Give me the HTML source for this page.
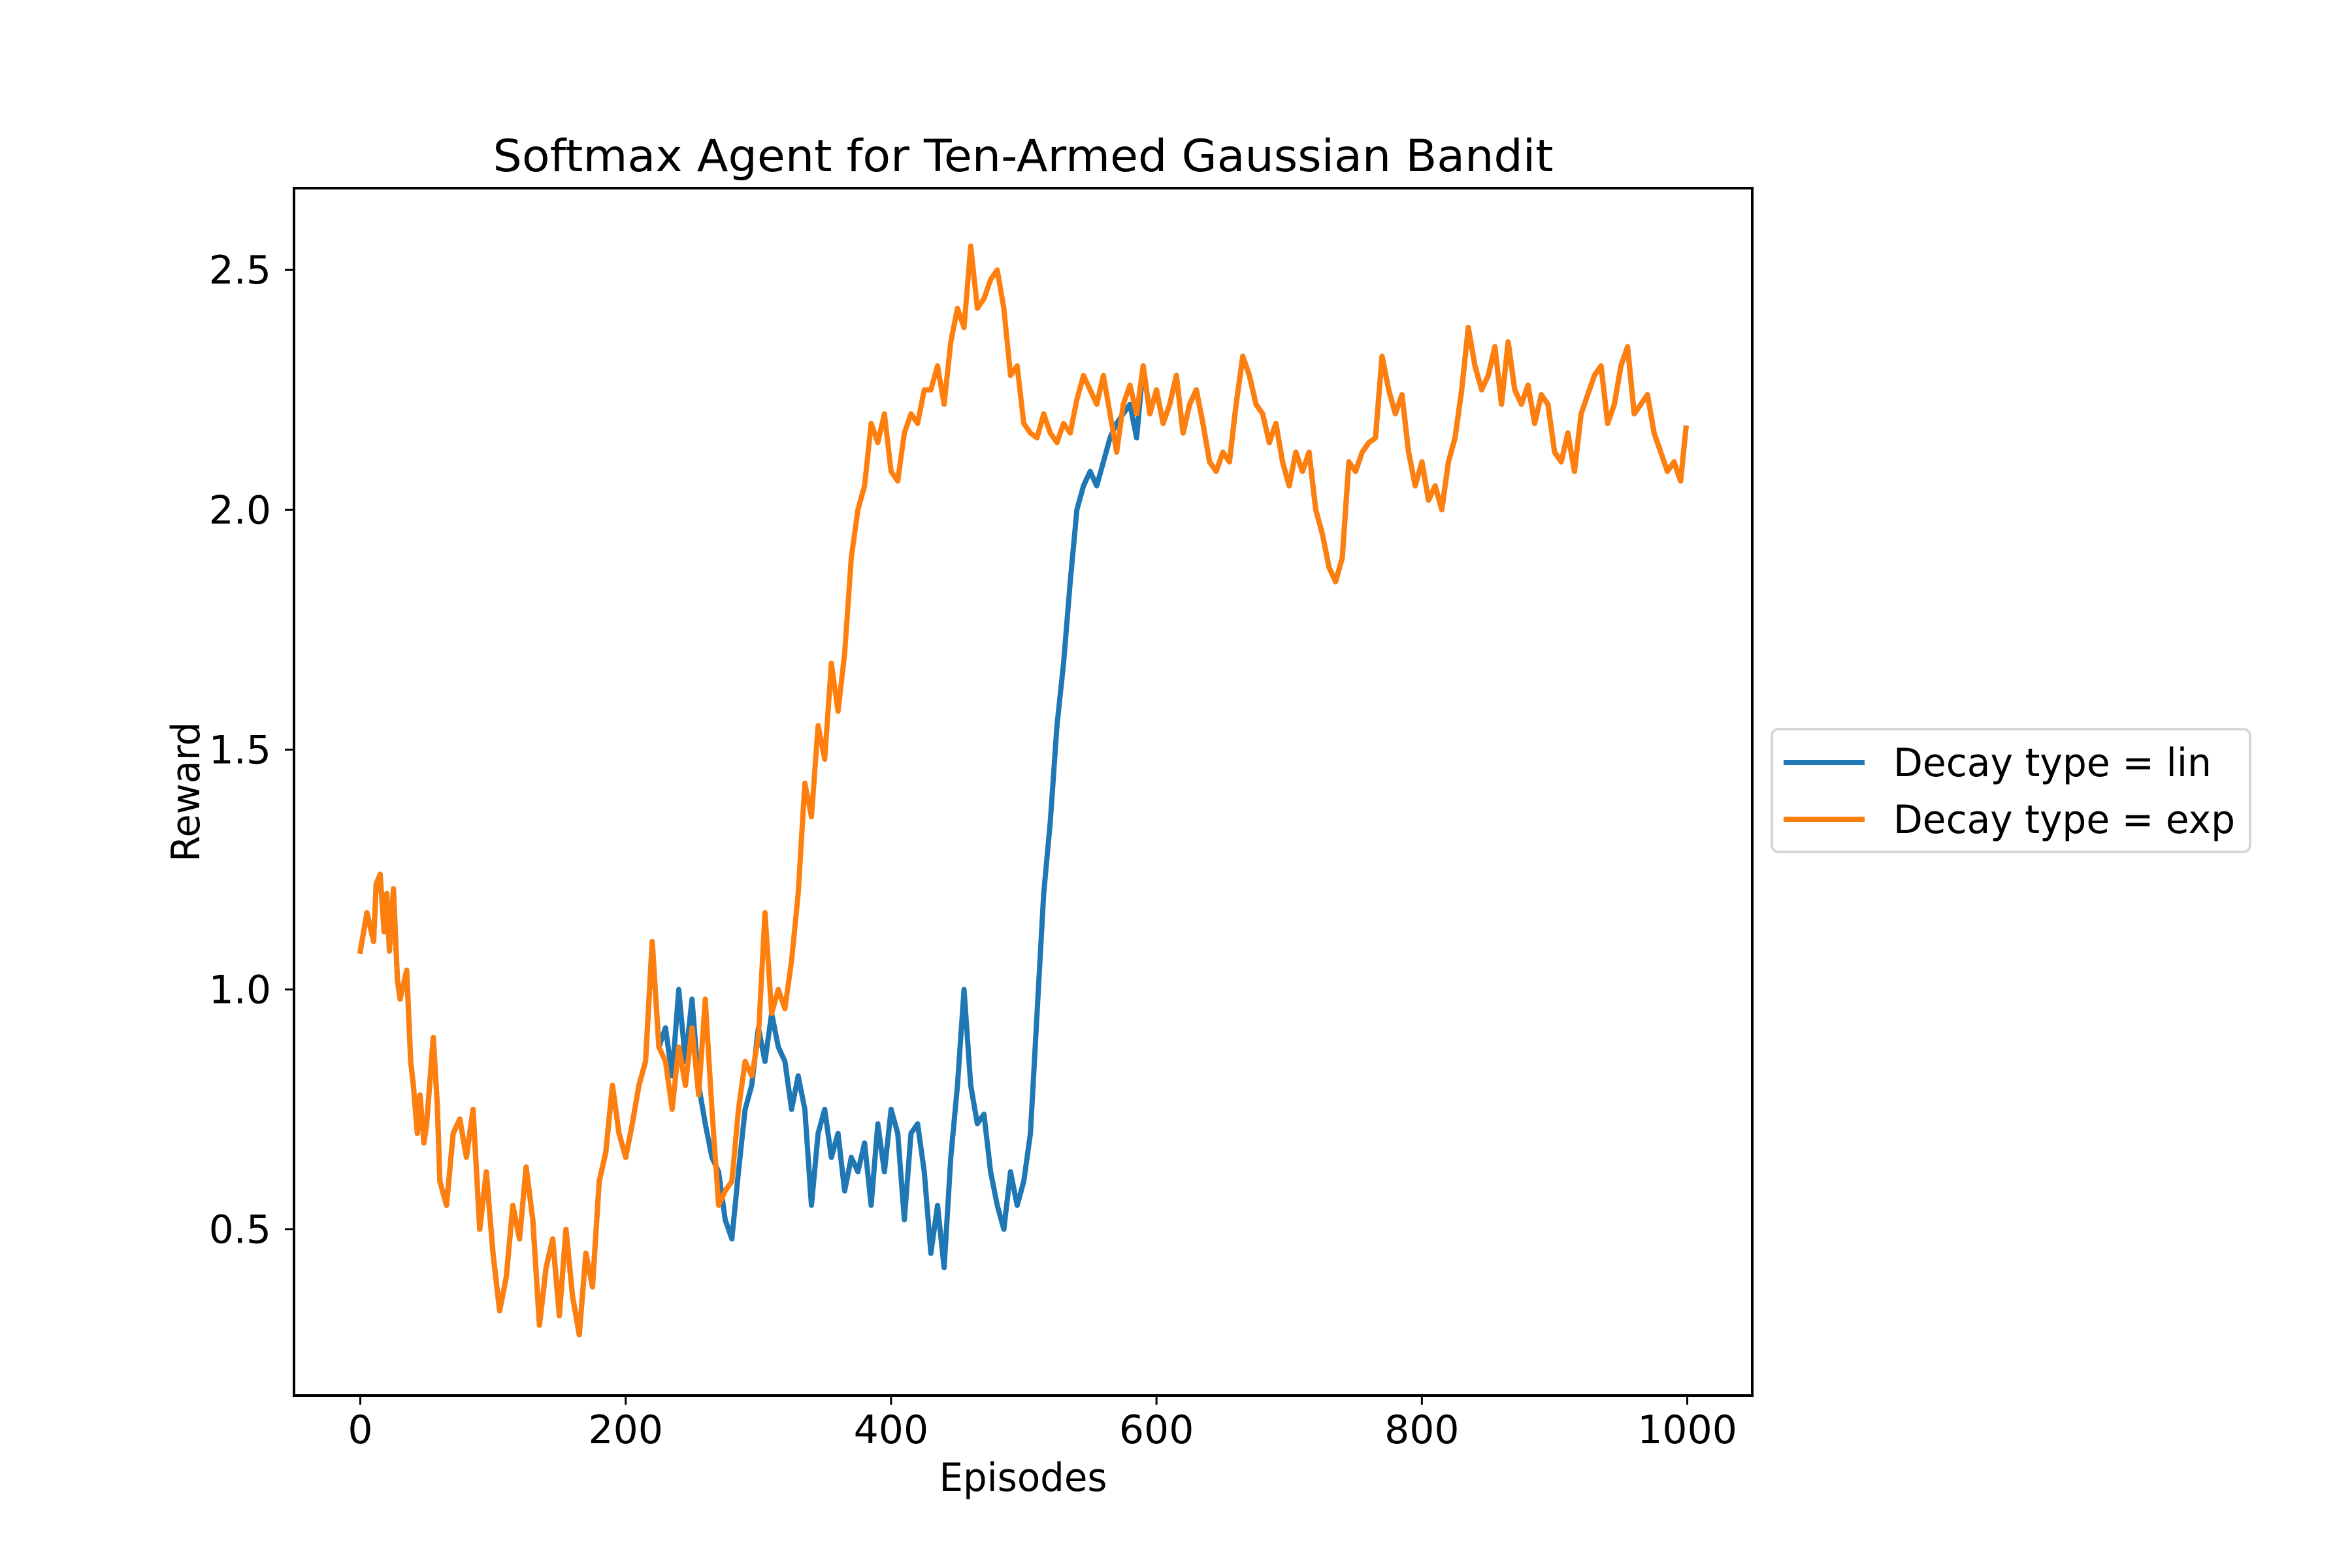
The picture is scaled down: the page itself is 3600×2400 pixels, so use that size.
<!DOCTYPE html>
<html><head><meta charset="utf-8"><style>
html,body{margin:0;padding:0;background:#fff;}
svg{display:block;font-family:"DejaVu Sans","Liberation Sans",sans-serif;}
</style></head><body>
<svg id="chart" width="3600" height="2400" viewBox="0 0 3600 2400" xmlns="http://www.w3.org/2000/svg">
<rect width="3600" height="2400" fill="#fff"/>
<text x="1566" y="262" font-size="68" text-anchor="middle" textLength="1623" lengthAdjust="spacingAndGlyphs">Softmax Agent for Ten-Armed Gaussian Bandit</text>
<g id="plot"></g>
<g id="axes"></g>
<text x="1566" y="2282" font-size="60" text-anchor="middle" textLength="257" lengthAdjust="spacingAndGlyphs">Episodes</text>
<text x="0" y="0" font-size="60" text-anchor="middle" textLength="214" lengthAdjust="spacingAndGlyphs" transform="translate(305,1212) rotate(-90)">Reward</text>
<g>
<rect x="2712" y="1116" width="732" height="188" rx="10" fill="#fff" stroke="#d6d6d6" stroke-width="4"/>
<line x1="2730" y1="1167" x2="2854" y2="1167" stroke="#1f77b4" stroke-width="8"/>
<text x="2898" y="1188" font-size="60" textLength="487" lengthAdjust="spacingAndGlyphs">Decay type = lin</text>
<line x1="2730" y1="1254" x2="2854" y2="1254" stroke="#ff7f0e" stroke-width="8"/>
<text x="2898" y="1275" font-size="60" textLength="523" lengthAdjust="spacingAndGlyphs">Decay type = exp</text>
</g>
</svg>
<script>
const episodes = [0,5,10,12,15,18,20,22,25,28,30,35,38,40,43,45,48,50,55,58,60,65,70,75,80,85,88,90,95,100,105,110,115,120,125,130,135,140,145,150,155,160,165,170,175,180,185,190,195,200,205,210,215,220,225,230,235,240,245,250,255,260,265,270,275,280,285,290,295,300,305,310,315,320,325,330,335,340,345,350,355,360,365,370,375,380,385,390,395,400,405,410,415,420,425,430,435,440,445,450,455,460,465,470,475,480,485,490,495,500,505,510,515,520,525,530,535,540,545,550,555,560,565,570,575,580,585,590,595,600,605,610,615,620,625,630,635,640,645,650,655,660,665,670,675,680,685,690,695,700,705,710,715,720,725,730,735,740,745,750,755,760,765,770,775,780,785,790,795,800,805,810,815,820,825,830,835,840,845,850,855,860,865,870,875,880,885,890,895,900,905,910,915,920,925,930,935,940,945,950,955,960,965,970,975,980,985,990,995,999];
const expRewards = [1.08,1.16,1.10,1.22,1.24,1.12,1.20,1.08,1.21,1.02,0.98,1.04,0.85,0.80,0.70,0.78,0.68,0.72,0.90,0.76,0.60,0.55,0.70,0.73,0.65,0.75,0.60,0.50,0.62,0.45,0.33,0.40,0.55,0.48,0.63,0.52,0.30,0.42,0.48,0.32,0.50,0.36,0.28,0.45,0.38,0.60,0.66,0.80,0.70,0.65,0.72,0.80,0.85,1.10,0.88,0.85,0.75,0.88,0.80,0.92,0.78,0.98,0.75,0.55,0.58,0.60,0.75,0.85,0.82,0.90,1.16,0.95,1.00,0.96,1.06,1.20,1.43,1.36,1.55,1.48,1.68,1.58,1.70,1.90,2.00,2.05,2.18,2.14,2.20,2.08,2.06,2.16,2.20,2.18,2.25,2.25,2.30,2.22,2.35,2.42,2.38,2.55,2.42,2.44,2.48,2.50,2.42,2.28,2.30,2.18,2.16,2.15,2.20,2.16,2.14,2.18,2.16,2.23,2.28,2.25,2.22,2.28,2.20,2.12,2.22,2.26,2.20,2.30,2.20,2.25,2.18,2.22,2.28,2.16,2.22,2.25,2.18,2.10,2.08,2.12,2.10,2.22,2.32,2.28,2.22,2.20,2.14,2.18,2.10,2.05,2.12,2.08,2.12,2.00,1.95,1.88,1.85,1.90,2.10,2.08,2.12,2.14,2.15,2.32,2.25,2.20,2.24,2.12,2.05,2.10,2.02,2.05,2.00,2.10,2.15,2.25,2.38,2.30,2.25,2.28,2.34,2.22,2.35,2.25,2.22,2.26,2.18,2.24,2.22,2.12,2.10,2.16,2.08,2.20,2.24,2.28,2.30,2.18,2.22,2.30,2.34,2.20,2.22,2.24,2.16,2.12,2.08,2.10,2.06,2.17];
const linRewards = [1.08,1.16,1.10,1.22,1.24,1.12,1.20,1.08,1.21,1.02,0.98,1.04,0.85,0.80,0.70,0.78,0.68,0.72,0.90,0.76,0.60,0.55,0.70,0.73,0.65,0.75,0.60,0.50,0.62,0.45,0.33,0.40,0.55,0.48,0.63,0.52,0.30,0.42,0.48,0.32,0.50,0.36,0.28,0.45,0.38,0.60,0.66,0.80,0.70,0.65,0.72,0.80,0.85,1.10,0.88,0.92,0.82,1.00,0.85,0.98,0.80,0.72,0.65,0.62,0.52,0.48,0.62,0.75,0.80,0.92,0.85,0.95,0.88,0.85,0.75,0.82,0.75,0.55,0.70,0.75,0.65,0.70,0.58,0.65,0.62,0.68,0.55,0.72,0.62,0.75,0.70,0.52,0.70,0.72,0.62,0.45,0.55,0.42,0.65,0.80,1.00,0.80,0.72,0.74,0.62,0.55,0.50,0.62,0.55,0.60,0.70,0.95,1.20,1.35,1.55,1.68,1.85,2.00,2.05,2.08,2.05,2.10,2.15,2.18,2.20,2.22,2.15,2.30,2.20,2.25,2.18,2.22,2.28,2.16,2.22,2.25,2.18,2.10,2.08,2.12,2.10,2.22,2.32,2.28,2.22,2.20,2.14,2.18,2.10,2.05,2.12,2.08,2.12,2.00,1.95,1.88,1.85,1.90,2.10,2.08,2.12,2.14,2.15,2.32,2.25,2.20,2.24,2.12,2.05,2.10,2.02,2.05,2.00,2.10,2.15,2.25,2.38,2.30,2.25,2.28,2.34,2.22,2.35,2.25,2.22,2.26,2.18,2.24,2.22,2.12,2.10,2.16,2.08,2.20,2.24,2.28,2.30,2.18,2.22,2.30,2.34,2.20,2.22,2.24,2.16,2.12,2.08,2.10,2.06,2.17];
const xTicks = [0,200,400,600,800,1000];
const xTickLabels = ["0","200","400","600","800","1000"];
const yTicks = [0.5,1.0,1.5,2.0,2.5];
const yTickLabels = ["0.5","1.0","1.5","2.0","2.5"];

const NS = "http://www.w3.org/2000/svg";
const L = 450, R = 2682, T = 288, B = 2136;
const xMin = -49.95, xMax = 1048.95, yMin = 0.1535, yMax = 2.6705;
function xs(v){ return L + (v - xMin) / (xMax - xMin) * (R - L); }
function ys(v){ return B - (v - yMin) / (yMax - yMin) * (B - T); }
function mk(tag, attrs){ const e = document.createElementNS(NS, tag); for (const k in attrs) e.setAttribute(k, attrs[k]); return e; }

const plot = document.getElementById('plot');
function drawSeries(vals, color, name){
  let d = '';
  for (let i = 0; i < vals.length; i++) d += (i ? 'L' : 'M') + xs(episodes[i]).toFixed(1) + ' ' + ys(vals[i]).toFixed(1);
  const p = mk('path', {d: d, fill: 'none', stroke: color, 'stroke-width': 8, 'stroke-linejoin': 'round', 'stroke-linecap': 'square'});
  
  
  plot.appendChild(p);
}
drawSeries(linRewards, '#1f77b4', 'line-decay-lin');
drawSeries(expRewards, '#ff7f0e', 'line-decay-exp');

const axes = document.getElementById('axes');
const frame = mk('rect', {x: L, y: T, width: R - L, height: B - T, fill: 'none', stroke: '#000', 'stroke-width': 4});


axes.appendChild(frame);
xTicks.forEach((v, i) => {
  const x = xs(v);
  const t = mk('line', {x1: x, y1: B, x2: x, y2: B + 14, stroke: '#000', 'stroke-width': 3});
  
  
  axes.appendChild(t);
  const lb = mk('text', {x: x, y: 2209, 'font-size': 60, 'text-anchor': 'middle'});
  
  
  lb.textContent = xTickLabels[i];
  axes.appendChild(lb);
});
yTicks.forEach((v, i) => {
  const y = ys(v);
  const t = mk('line', {x1: L - 14, y1: y, x2: L, y2: y, stroke: '#000', 'stroke-width': 3});
  
  
  axes.appendChild(t);
  const lb = mk('text', {x: 415, y: y + 21, 'font-size': 60, 'text-anchor': 'end'});
  
  
  lb.textContent = yTickLabels[i];
  axes.appendChild(lb);
});
</script>
</body></html>
